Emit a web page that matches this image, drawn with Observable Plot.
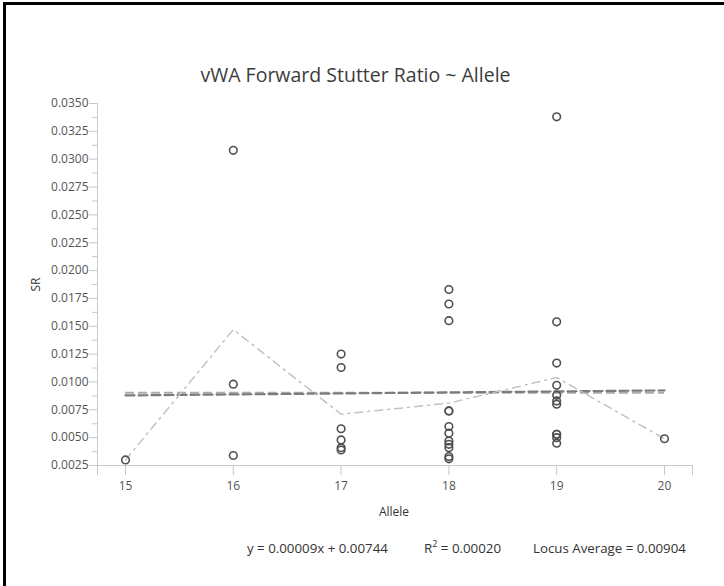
<!DOCTYPE html>
<html><head><meta charset="utf-8">
<script src="https://cdn.jsdelivr.net/npm/d3@7"></script>
<script src="https://cdn.jsdelivr.net/npm/@observablehq/plot@0.6"></script>
<style>
body{margin:0;background:#fff;font-family:"Open Sans",sans-serif;}
#wrap{position:relative;width:724px;height:586px;overflow:hidden;background:#fff}
.bl{position:absolute;left:3px;top:2px;width:3px;height:584px;background:#000}
.bt{position:absolute;left:3px;top:2px;width:721px;height:3px;background:#000}
#title{position:absolute;left:0;width:711px;top:61px;text-align:center;font-size:19.5px;color:#3c3c3c;white-space:nowrap}
#chart{position:absolute;left:0;top:90px}
.lab{position:absolute;font-size:12px;color:#333;white-space:nowrap;text-align:center}
.stat{position:absolute;top:539px;font-size:13.3px;color:#333;white-space:nowrap}
.stat sup{font-size:9px;vertical-align:6px;line-height:0}
</style></head><body>
<div id="wrap">
  <div id="title">vWA Forward Stutter Ratio ~ Allele</div>
  <div id="chart"></div>
  <div class="lab" style="left:15px;top:276px;width:40px;transform:rotate(-90deg)">SR</div>
  <div class="lab" style="left:364px;top:503px;width:60px">Allele</div>
  <div class="stat" style="left:247px">y = 0.00009x + 0.00744</div>
  <div class="stat" style="left:424px">R<sup>2</sup> = 0.00020</div>
  <div class="stat" style="left:533px">Locus Average = 0.00904</div>
  <div class="bl"></div><div class="bt"></div>
</div>
<script>
// Data
const alleles = [15, 16, 17, 18, 19, 20];
const sr15 = [0.0030];
const sr16 = [0.0308, 0.0098, 0.0034];
const sr17 = [0.0125, 0.0113, 0.0058, 0.0048, 0.0041, 0.0039];
const sr18 = [0.0183, 0.0170, 0.0155, 0.0074, 0.0074, 0.0060, 0.0054, 0.0047, 0.0044, 0.0041, 0.0033, 0.0031];
const sr19 = [0.0338, 0.0154, 0.0117, 0.0097, 0.0088, 0.0083, 0.0080, 0.0053, 0.0053, 0.0050, 0.0045];
const sr20 = [0.0049];
const alleleMeans = [0.0030, 0.0147, 0.0071, 0.0081, 0.0104, 0.0049];
const regressionX = [15, 20];
const regressionY = [0.00879, 0.00924];
const locusAverage = 0.00904;
const yTickValues = [0.0025, 0.0050, 0.0075, 0.0100, 0.0125, 0.0150, 0.0175, 0.0200, 0.0225, 0.0250, 0.0275, 0.0300, 0.0325, 0.0350];
const yMinorTicks = [0.00375, 0.00625, 0.00875, 0.01125, 0.01375, 0.01625, 0.01875, 0.02125, 0.02375, 0.02625, 0.02875, 0.03125, 0.03375];
const xDomain = [14.74, 20.26];
const yDomain = [0.0025, 0.035];

const groups = [sr15, sr16, sr17, sr18, sr19, sr20];
const points = groups.flatMap((vals, i) => vals.map(v => ({allele: alleles[i], sr: v})));
const means = alleles.map((a, i) => ({allele: a, sr: alleleMeans[i]}));
const regression = regressionX.map((a, i) => ({allele: a, sr: regressionY[i]}));
const xTicks = [xDomain[0], ...alleles, xDomain[1]];

const axisColor = "#c8c8c8";
const chart = Plot.plot({
  width: 724, height: 440,
  marginLeft: 97, marginRight: 32, marginTop: 13, marginBottom: 65,
  x: {domain: xDomain, axis: null},
  y: {domain: yDomain, axis: null},
  style: {fontFamily: '"Open Sans", sans-serif', fontSize: "12px", background: "transparent", overflow: "visible"},
  marks: [
    Plot.axisY({ticks: yMinorTicks, tickSize: 5, tickFormat: () => "", stroke: axisColor, label: null}),
    Plot.axisY({ticks: yTickValues, tickSize: 8, tickPadding: 1, tickFormat: d3.format(".4f"), stroke: axisColor, fill: "#555", label: null}),
    Plot.axisX({ticks: xTicks, tickSize: 10, tickPadding: 6, tickFormat: d => alleles.includes(d) ? String(d) : "", stroke: axisColor, fill: "#555", label: null}),
    Plot.ruleX([xDomain[0]], {y1: yDomain[0], y2: yDomain[1], stroke: axisColor}),
    Plot.ruleY([yDomain[0]], {x1: xDomain[0], x2: xDomain[1], stroke: axisColor}),
    Plot.ruleY([locusAverage], {x1: regressionX[0], x2: regressionX[1], stroke: "#ababab", strokeWidth: 2, strokeDasharray: "9,4"}),
    Plot.line(regression, {x: "allele", y: "sr", stroke: "#7c7c7c", strokeWidth: 2.2, strokeDasharray: "9,4"}),
    Plot.line(means, {x: "allele", y: "sr", stroke: "#c2c2c2", strokeWidth: 1.5, strokeDasharray: "8,5,2,5"}),
    Plot.dot(points, {x: "allele", y: "sr", r: 3.8, stroke: "#505050", strokeWidth: 1.6, fill: "none"})
  ]
});
document.getElementById("chart").appendChild(chart);
</script>
</body></html>
